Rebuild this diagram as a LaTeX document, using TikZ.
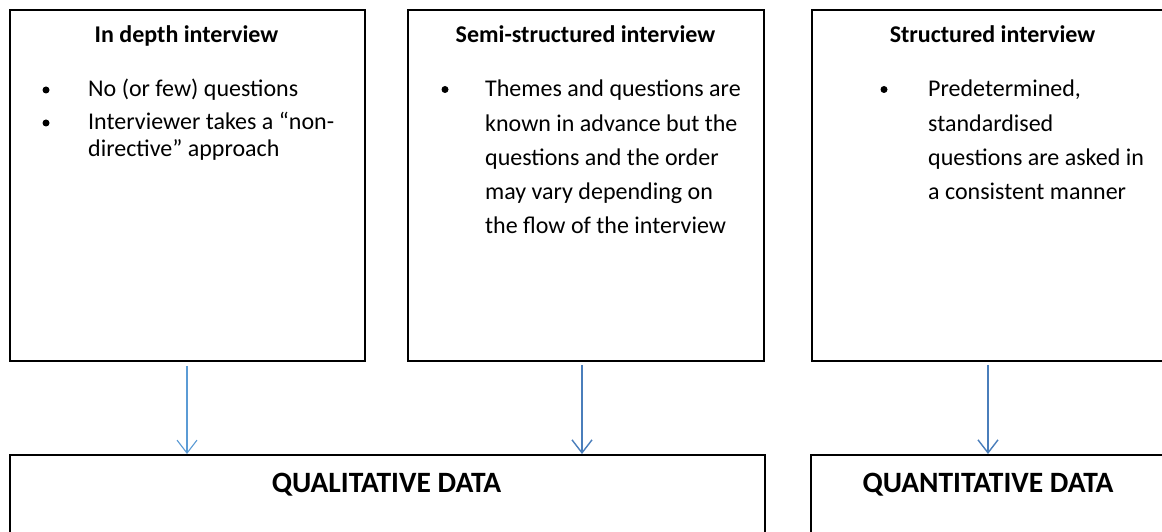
\documentclass[tikz,border=0pt]{standalone}
\usepackage{fontspec}
\setmainfont{Carlito}
\usetikzlibrary{arrows.meta}

\definecolor{arrowblue}{HTML}{4A7EBB}
\definecolor{lightarrowblue}{HTML}{5B9BD5}

\tikzset{
  box/.style={draw=black, line width=1.8pt, fill=none, inner sep=0pt, anchor=north west},
  heading/.style={font=\fontsize{24}{28}\selectfont\bfseries, anchor=base, inner sep=0pt},
  bigheading/.style={font=\fontsize{29.5}{34}\selectfont\bfseries, anchor=base, inner sep=0pt},
  line/.style={font=\fontsize{24}{28}\selectfont, anchor=base west, inner sep=0pt},
  bulletdot/.style={circle, fill=black, draw=none, minimum size=7pt, inner sep=0pt},
  flow/.style={draw=arrowblue, line width=1.6pt, -{Straight Barb[length=13pt,width=20pt,line width=1.4pt]}},
  thinflow/.style={draw=lightarrowblue, line width=1.1pt, -{Straight Barb[length=13pt,width=20pt,line width=1.1pt]}},
}

\begin{document}
\begin{tikzpicture}[x=1pt, y=-1pt]
  \clip (0,0) rectangle (1162,532);
  \fill[white] (0,0) rectangle (1162,532);

  % interview types
  \node[box, minimum width=355pt, minimum height=351pt] (indepth) at (9,9) {};
  \node[box, minimum width=356pt, minimum height=351pt] (semi) at (407,9) {};
  \node[box, minimum width=363pt, minimum height=351pt] (struct) at (811,9) {};

  % kinds of data
  \node[box, minimum width=755pt, minimum height=120pt] (qual) at (9,454) {};
  \node[box, minimum width=360pt, minimum height=120pt] (quant) at (810,454) {};

  % in depth interview
  \node[heading] (t1) at (186.5,42.5) {In depth interview};
  \node[bulletdot] (b11) at (46,90) {};
  \node[line] (l11) at (88,96.7) {No (or few) questions};
  \node[bulletdot] (b12) at (46,123) {};
  \node[line] (l12) at (88,130) {Interviewer takes a “non-};
  \node[line] (l13) at (88,156.7) {directive” approach};

  % semi-structured interview
  \node[heading] (t2) at (585.5,42.5) {Semi-structured interview};
  \node[bulletdot] (b21) at (445,89.5) {};
  \node[line] (l21) at (485,96.7) {Themes and questions are};
  \node[line] (l22) at (485,131.2) {known in advance but the};
  \node[line] (l23) at (485,165.7) {questions and the order};
  \node[line] (l24) at (485,200) {may vary depending on};
  \node[line] (l25) at (485,233.5) {the flow of the interview};

  % structured interview
  \node[heading] (t3) at (992.5,42.5) {Structured interview};
  \node[bulletdot] (b31) at (884,89.5) {};
  \node[line] (l31) at (928,96.7) {Predetermined,};
  \node[line] (l32) at (928,131.2) {standardised};
  \node[line] (l33) at (928,165.7) {questions are asked in};
  \node[line] (l34) at (928,200) {a consistent manner};

  % data headings
  \node[bigheading] (qualtext) at (386.5,492) {QUALITATIVE DATA};
  \node[bigheading] (quanttext) at (988,492) {QUANTITATIVE DATA};

  % connectors, starting a little below the upper boxes
  \coordinate (a1s) at ([yshift=-4pt]indepth.south -| 187,0);
  \coordinate (a1e) at (qual.north -| 187,0);
  \draw[thinflow] (a1s) -- (a1e);
  \coordinate (a2s) at ([yshift=-3pt]semi.south -| 582,0);
  \coordinate (a2e) at (qual.north -| 582,0);
  \draw[flow] (a2s) -- (a2e);
  \coordinate (a3s) at ([yshift=-3pt]struct.south -| 988,0);
  \coordinate (a3e) at (quant.north -| 988,0);
  \draw[flow] (a3s) -- (a3e);
\end{tikzpicture}
\end{document}
